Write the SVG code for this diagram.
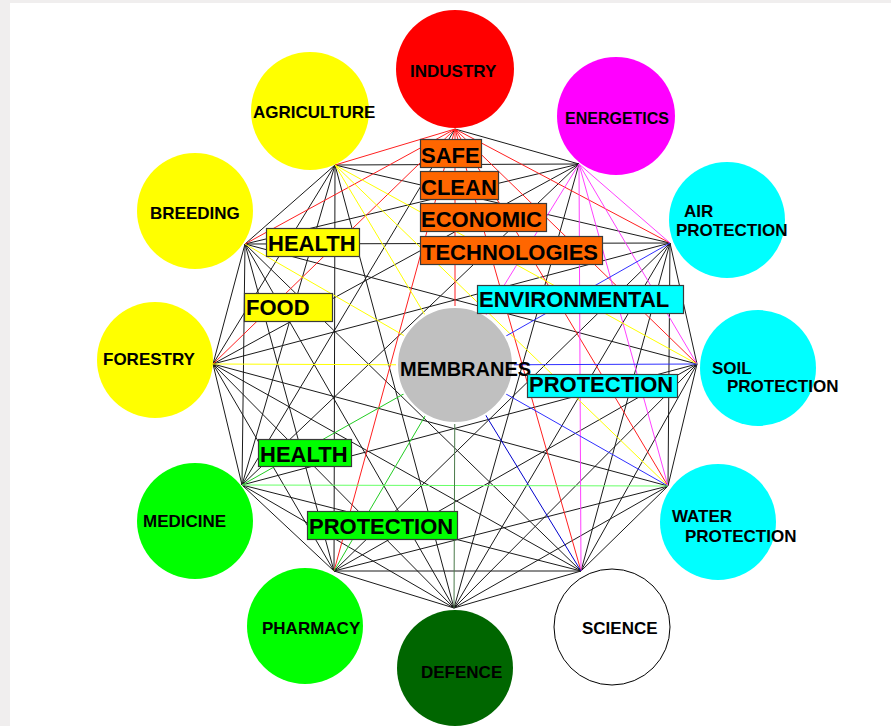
<svg xmlns="http://www.w3.org/2000/svg" width="891" height="726" viewBox="0 0 891 726">
<style>
.e{fill:none;stroke-width:1}
.k{stroke:#1a1a1a}
.r{stroke:#ff2020}
.m{stroke:#ff40ff}
.y{stroke:#ffff00}
.b{stroke:#3030ff}
.g{stroke:#22cc22}
.lg{stroke:#66ff66}
.dg{stroke:#4a7a4a}
.n{font-family:"Liberation Sans",Arial,sans-serif;font-weight:bold;font-size:17px;fill:#000}
.t{font-family:"Liberation Sans",Arial,sans-serif;font-weight:bold;font-size:22px;fill:#000}
.bx{stroke:#3a3a3a;stroke-width:1.2}
</style>
<rect x="0" y="0" width="891" height="726" fill="#f0eeee"/>
<rect x="10" y="3" width="881" height="723" fill="#ffffff"/>
<g id="connectors">
<path class="e k" d="M455 129L579 164M455 129L242 485M579 164L454 608M579 164L242 485M579 164L213 364M579 164L245 244M579 164L335 165M670 243L697 364M670 243L668 486M670 243L581 571M670 243L454 608M670 243L334 571M670 243L213 364M670 243L245 244M670 243L335 165M697 364L668 486M697 364L581 571M697 364L454 608M697 364L334 571M697 364L242 485M697 364L245 244M668 486L581 571M668 486L454 608M668 486L334 571M668 486L213 364M581 571L454 608M581 571L334 571M581 571L242 485M581 571L213 364M581 571L245 244M454 608L334 571M454 608L242 485M454 608L213 364M454 608L245 244M454 608L335 165M334 571L242 485M334 571L213 364M334 571L245 244M334 571L335 165M242 485L213 364M242 485L245 244M242 485L335 165M213 364L245 244M213 364L335 165M245 244L335 165"/>
<path class="e r" d="M455 129L335 165M455 129L245 244M455 129L213 364M455 129L334 571M455 129L670 243M455 129L697 364M455 129L668 486M455 129L581 571M455 129L455 365"/>
<path class="e m" d="M579 164L670 243M579 164L697 364M579 164L668 486M579 164L581 571M579 164L455 365"/>
<path class="e y" d="M335 165L697 364M335 165L668 486M335 165L455 365M245 244L455 365M213 364L455 365"/>
<path class="e b" d="M670 243L455 365M697 364L455 365M668 486L455 365"/>
<path class="e" stroke="#0000cc" d="M581 571L455 365"/>
<path class="e g" d="M242 485L455 365M334 571L455 365"/>
<path class="e lg" d="M242 485L668 486"/>
<path class="e dg" d="M454 608L455 365"/>
</g>
<g id="industry"><circle cx="455" cy="69" r="59" fill="#ff0000"/><text class="n" x="410" y="77">INDUSTRY</text></g>
<g id="energetics"><circle cx="616" cy="116" r="59" fill="#ff00ff"/><text class="n" x="565" y="124" style="font-size:16px">ENERGETICS</text></g>
<g id="air"><circle cx="727" cy="220" r="58" fill="#00ffff"/><text class="n" x="684" y="217">AIR</text><text class="n" x="676" y="236">PROTECTION</text></g>
<g id="soil"><circle cx="758" cy="368" r="58" fill="#00ffff"/><text class="n" x="712" y="374">SOIL</text><text class="n" x="727" y="392">PROTECTION</text></g>
<g id="water"><circle cx="718" cy="522" r="58" fill="#00ffff"/><text class="n" x="672" y="522">WATER</text><text class="n" x="685" y="542">PROTECTION</text></g>
<g id="science"><circle cx="612" cy="627" r="58" fill="#ffffff" stroke="#000" stroke-width="1"/><text class="n" x="582" y="634">SCIENCE</text></g>
<g id="defence"><circle cx="455" cy="668" r="58" fill="#006600"/><text class="n" x="421" y="678">DEFENCE</text></g>
<g id="pharmacy"><circle cx="305" cy="626" r="58" fill="#00ff00"/><text class="n" x="262" y="634">PHARMACY</text></g>
<g id="medicine"><circle cx="195" cy="521" r="58" fill="#00ff00"/><text class="n" x="143" y="527">MEDICINE</text></g>
<g id="forestry"><circle cx="155" cy="360" r="58" fill="#ffff00"/><text class="n" x="103" y="365">FORESTRY</text></g>
<g id="breeding"><circle cx="195" cy="211" r="58" fill="#ffff00"/><text class="n" x="150" y="219">BREEDING</text></g>
<g id="agriculture"><circle cx="310" cy="111" r="59" fill="#ffff00"/><text class="n" x="253" y="118">AGRICULTURE</text></g>
<g id="membranes"><circle cx="455" cy="365" r="58" fill="#c0c0c0" stroke="#ffffff" stroke-width="2"/><text class="n" x="400" y="376" style="font-size:20px">MEMBRANES</text></g>
<g id="box-safe"><rect class="bx" x="420.5" y="139.5" width="61" height="28" fill="#ff6600"/><text class="t" x="421" y="163">SAFE</text></g>
<g id="box-clean"><rect class="bx" x="420.5" y="171.5" width="78" height="28" fill="#ff6600"/><text class="t" x="421" y="195">CLEAN</text></g>
<g id="box-economic"><rect class="bx" x="420.5" y="203.5" width="126" height="28" fill="#ff6600"/><text class="t" x="421" y="227">ECONOMIC</text></g>
<g id="box-technologies"><rect class="bx" x="420.5" y="236.5" width="182" height="28" fill="#ff6600"/><text class="t" x="422" y="260">TECHNOLOGIES</text></g>
<g id="box-health-y"><rect class="bx" x="266.5" y="228.5" width="93" height="28" fill="#ffff00"/><text class="t" x="268" y="251">HEALTH</text></g>
<g id="box-food"><rect class="bx" x="244.5" y="293.5" width="88" height="28" fill="#ffff00"/><text class="t" x="246" y="315">FOOD</text></g>
<g id="box-environmental"><rect class="bx" x="477.5" y="285.5" width="206" height="28" fill="#00ffff"/><text class="t" x="479" y="307">ENVIRONMENTAL</text></g>
<g id="box-protection-c"><rect class="bx" x="527.5" y="374.5" width="150" height="23" fill="#00ffff"/><text class="t" x="529" y="392">PROTECTION</text></g>
<g id="box-health-g"><rect class="bx" x="258.5" y="439.5" width="93" height="27" fill="#00ff00"/><text class="t" x="260" y="462">HEALTH</text></g>
<g id="box-protection-g"><rect class="bx" x="307.5" y="511.5" width="150" height="28" fill="#00ff00"/><text class="t" x="309" y="534">PROTECTION</text></g>
</svg>
